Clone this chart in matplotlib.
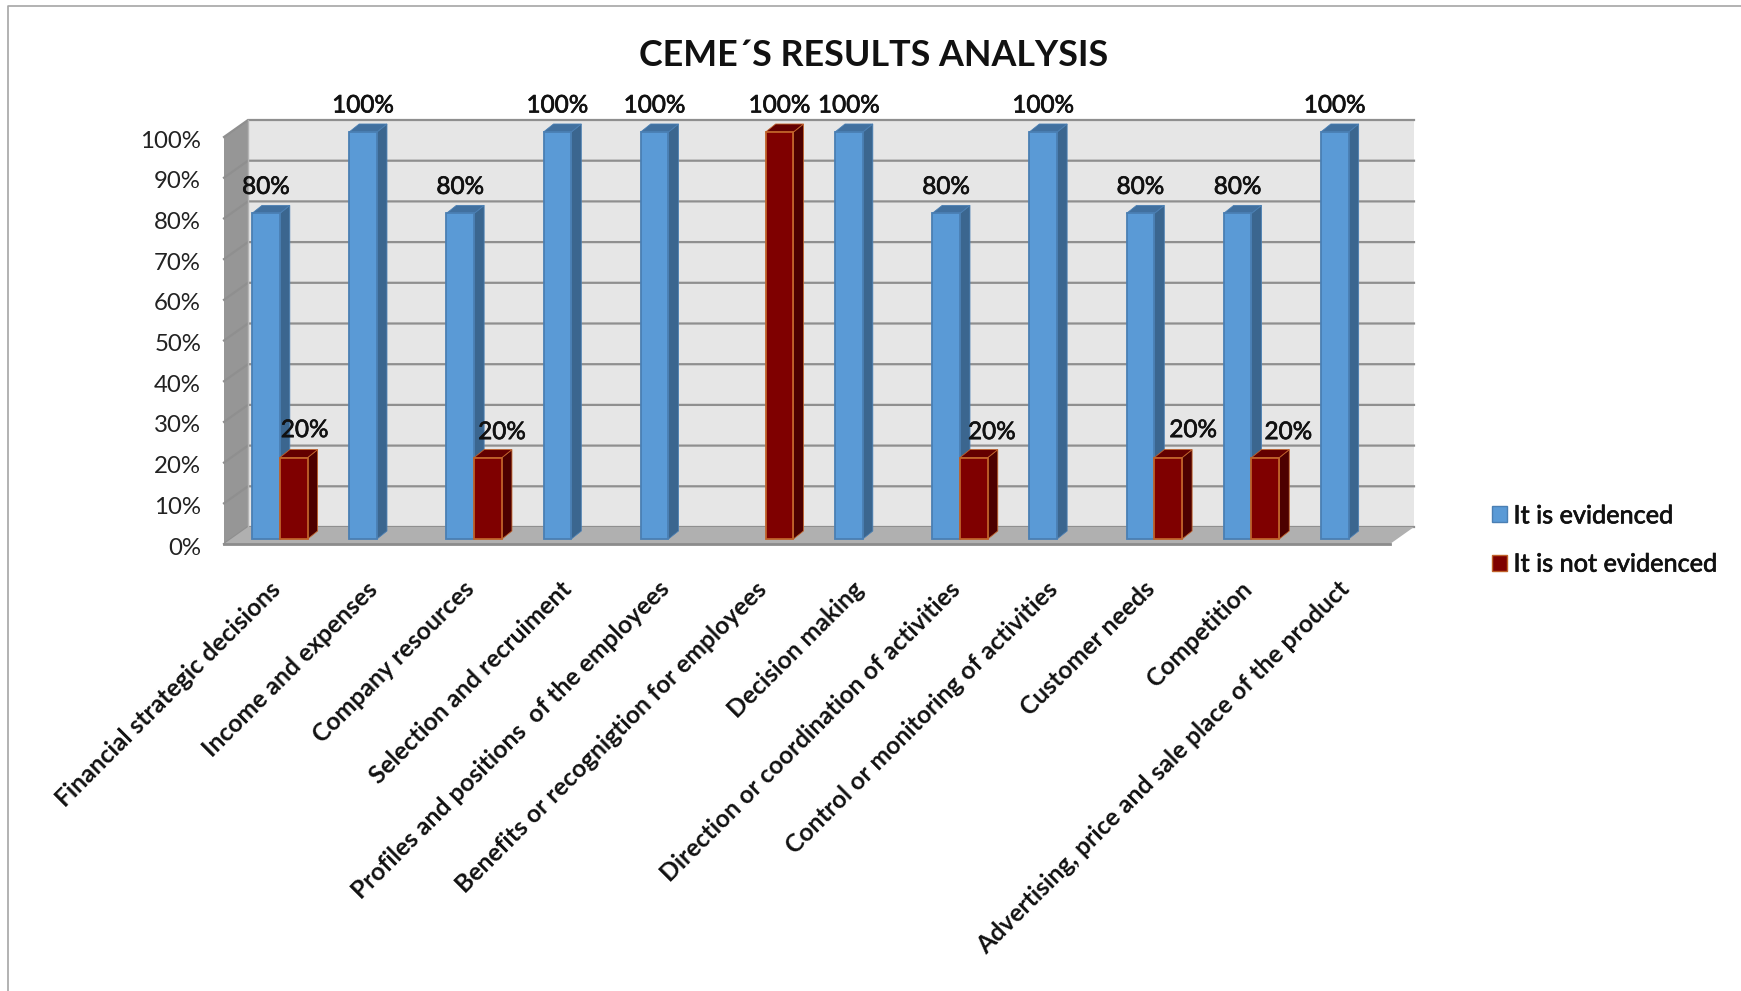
import matplotlib
matplotlib.use("Agg")
import matplotlib.pyplot as plt
import matplotlib.patheffects as pe
from matplotlib.patches import Polygon, Patch
from matplotlib.ticker import PercentFormatter
from matplotlib.transforms import ScaledTranslation
import numpy as np

plt.rcParams['font.family'] = ['Lato', 'DejaVu Sans']

categories = ['Financial strategic decisions', 'Income and expenses', 'Company resources',
              'Selection and recruiment', 'Profiles and positions  of the employees',
              'Benefits or recognigtion for employees', 'Decision making',
              'Direction or coordination of activities', 'Control or monitoring of activities',
              'Customer needs', 'Competition', 'Advertising, price and sale place of the product']
evidenced = [80, 100, 80, 100, 100, 0, 100, 80, 100, 80, 80, 100]
not_evidenced = [20, 0, 20, 0, 0, 100, 0, 20, 0, 20, 20, 0]
yticks = list(range(0, 101, 10))
# hand-placed nudges of the 20% labels, in pixels
red_label_dx = [11, 0, 14, 0, 0, 0, 0, 18, 0, 25, 23, 0]
red_label_dy = [1, 0, -1, 0, 0, 0, 0, -1, 0, 1, -1, 0]

W, H = 1741, 991
LEFT, RIGHT, BOTTOM, TOP = 224, 1390, 544, 137
# pixels to data units
PX = 12 / (RIGHT - LEFT)
PY = 100 / (BOTTOM - TOP)

fig = plt.figure(figsize=(W / 100, H / 100), dpi=100, facecolor='white')
ax = fig.add_axes([LEFT / W, 1 - BOTTOM / H, (RIGHT - LEFT) / W, (BOTTOM - TOP) / H])
ax.set_xlim(0, 12)
ax.set_ylim(0, 100)
ax.patch.set_visible(False)
for s in ax.spines.values():
    s.set_visible(False)

# outer chart frame
fig.add_artist(plt.Line2D([8 / W, 8 / W, 1], [0, 1 - 5.5 / H, 1 - 5.5 / H], color='#a6a6a6', lw=1.2))

# 3d box: back wall, side wall, floor
dx, dy = 24 * PX, 17 * PY
wall = Polygon([(dx, dy), (12 + dx, dy), (12 + dx, 100 + dy), (dx, 100 + dy)], fc='#e6e6e6', ec='none', zorder=1)
side = Polygon([(0, 0), (dx, dy), (dx, 100 + dy), (0, 100)], fc='#969696', ec='none', zorder=1)
floor = Polygon([(0, 0), (12, 0), (12 + dx, dy), (dx, dy)], fc='#b0b0b0', ec='none', zorder=1.5)
for p in (wall, side, floor):
    p.set_clip_on(False)
    ax.add_patch(p)
for v in yticks:
    ax.plot([0, dx, 12 + dx], [v, v + dy, v + dy], color='#8f8f8f', lw=1.6, zorder=1.2, clip_on=False,
            solid_joinstyle='miter')
ax.plot([0, 12], [0, 0], color='#8c8c8c', lw=2, zorder=1.6, clip_on=False)
ax.plot([dx, dx], [dy, 100 + dy], color='#b5b5b5', lw=1, zorder=1.2, clip_on=False)


def draw_bars(xs, vals, front, top, right, edge, z):
    # each bar is a front rectangle plus a top and a side face
    base = 5 * PY
    bw = 27.8 * PX
    ddx, ddy = 10 * PX, 8 * PY
    for x, v in zip(xs, vals):
        if v == 0:
            continue
        y1 = base + v
        ax.add_patch(Polygon([(x + bw, base), (x + bw + ddx, base + ddy), (x + bw + ddx, y1 + ddy), (x + bw, y1)],
                             fc=right, ec=edge, lw=0.6, zorder=z, clip_on=False))
        ax.add_patch(Polygon([(x, y1), (x + bw, y1), (x + bw + ddx, y1 + ddy), (x + ddx, y1 + ddy)],
                             fc=top, ec=edge, lw=0.6, zorder=z, clip_on=False))
    ax.bar(np.array(xs)[np.array(vals) > 0], np.array(vals)[np.array(vals) > 0], width=bw, bottom=base, align='edge',
           color=front, edgecolor=edge, linewidth=1.3, zorder=z + 0.1, clip_on=False)


x_pos = np.arange(12)
bar_off = 28 * PX
bar_w = 27.8 * PX
draw_bars(x_pos + bar_off, evidenced, '#5a9ad6', '#41709f', '#3b668f', '#4a7fb3', 2)
draw_bars(x_pos + bar_off + bar_w, not_evidenced, '#7f0000', '#640000', '#4d0000', '#c0622a', 3)

# slightly heavier strokes for the value labels
thick = [pe.withStroke(linewidth=0.5, foreground='#111111')]

# value labels over the bars
for i in range(12):
    if evidenced[i]:
        ax.text(i + bar_off + bar_w / 2, evidenced[i] + 5 * PY + 26 * PY, f'{evidenced[i]}%', ha='center',
                va='center', fontsize=17.5, color='#111111', zorder=5, clip_on=False, path_effects=thick)
    if not_evidenced[i]:
        ax.text(i + bar_off + bar_w * 1.5 + red_label_dx[i] * PX,
                not_evidenced[i] + 5 * PY + (26 + red_label_dy[i]) * PY, f'{not_evidenced[i]}%', ha='center',
                va='center', fontsize=17.5, color='#111111', zorder=5, clip_on=False, path_effects=thick)

ax.set_yticks(yticks)
ax.yaxis.set_major_formatter(PercentFormatter(100, decimals=0))
ax.tick_params(axis='y', length=0, pad=16.5, labelsize=17.3, labelcolor='#222222')
# nudge the y labels down a touch
down = ScaledTranslation(0, -1.5 / 72, fig.dpi_scale_trans)
for lab in ax.get_yticklabels():
    lab.set_transform(lab.get_transform() + down)
ax.set_xticks(x_pos + 0.5 - 4 * PX, categories, rotation=45, ha='right', rotation_mode='anchor', fontweight='bold')
ax.tick_params(axis='x', length=0, pad=24, labelsize=17.8, labelcolor='#111111')

fig.text(874 / W, 1 - 56 / H, 'CEME´S RESULTS ANALYSIS', ha='center', va='center', fontsize=25.8, fontweight='bold',
         color='#111111')

handles = [Patch(fc='#5a9ad6', ec='#4a7fb3', lw=1), Patch(fc='#7f0000', ec='#c0622a', lw=1)]
leg = fig.legend(handles, ['It is evidenced', 'It is not evidenced'], loc='center left',
                 bbox_to_anchor=(1492 / W, 1 - 540 / H), frameon=False, handlelength=0.6, handleheight=0.6,
                 handletextpad=0.25, labelspacing=1.0, borderpad=0, borderaxespad=0, labelcolor='#111111',
                 prop={'size': 18.2})
for t in leg.get_texts():
    t.set_path_effects(thick)

fig.savefig('out.png', dpi=100)
